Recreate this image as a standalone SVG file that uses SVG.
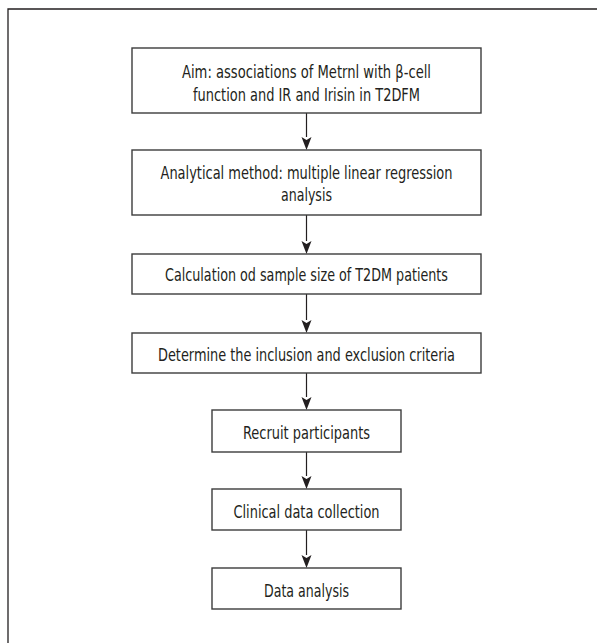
<svg xmlns="http://www.w3.org/2000/svg" width="597" height="643" viewBox="0 0 597 643">
<style>
.box{fill:#fff;stroke:#3c3c3c;stroke-width:1.4}
.t{font-family:"Liberation Sans Narrow","DejaVu Sans Condensed","Liberation Sans",Arial,sans-serif;font-size:18.5px;fill:#231f20;text-anchor:middle}
.c{stroke:#231f20;stroke-width:1.2;fill:none}
.frame{stroke:#231f20;stroke-width:1.3;fill:none}
.ah{fill:#231f20}
</style>
<rect width="597" height="643" fill="#fff"/>
<path class="frame" d="M8,643 V9 H597"/>
<g id="connectors">
<line class="c" x1="306.5" y1="113" x2="306.5" y2="137"/>
<path class="ah" d="M301.5,137 L306.5,140 L311.5,137 L306.5,150 Z"/>
<line class="c" x1="306.5" y1="215" x2="306.5" y2="241"/>
<path class="ah" d="M301.5,241 L306.5,244 L311.5,241 L306.5,254 Z"/>
<line class="c" x1="306.5" y1="294" x2="306.5" y2="320"/>
<path class="ah" d="M301.5,320 L306.5,323 L311.5,320 L306.5,333 Z"/>
<line class="c" x1="306.5" y1="373" x2="306.5" y2="397"/>
<path class="ah" d="M301.5,397 L306.5,400 L311.5,397 L306.5,410 Z"/>
<line class="c" x1="306.5" y1="452" x2="306.5" y2="476"/>
<path class="ah" d="M301.5,476 L306.5,479 L311.5,476 L306.5,489 Z"/>
<line class="c" x1="306.5" y1="530" x2="306.5" y2="555"/>
<path class="ah" d="M301.5,555 L306.5,558 L311.5,555 L306.5,568 Z"/>
</g>
<g id="n1">
<rect class="box" x="132" y="48" width="349" height="65"/>
<text class="t" x="306.5" y="78" textLength="249" lengthAdjust="spacingAndGlyphs">Aim: associations of Metrnl with β-cell</text>
<text class="t" x="306.5" y="100.5" textLength="227" lengthAdjust="spacingAndGlyphs">function and IR and Irisin in T2DFM</text>
</g>
<g id="n2">
<rect class="box" x="132" y="150" width="349" height="65"/>
<text class="t" x="306.5" y="178.5" textLength="292" lengthAdjust="spacingAndGlyphs">Analytical method: multiple linear regression</text>
<text class="t" x="306.5" y="200.5" textLength="51" lengthAdjust="spacingAndGlyphs">analysis</text>
</g>
<g id="n3">
<rect class="box" x="132" y="254" width="349" height="40"/>
<text class="t" x="306.5" y="281" textLength="283" lengthAdjust="spacingAndGlyphs">Calculation od sample size of T2DM patients</text>
</g>
<g id="n4">
<rect class="box" x="132" y="333" width="349" height="40"/>
<text class="t" x="306.5" y="361" textLength="297" lengthAdjust="spacingAndGlyphs">Determine the inclusion and exclusion criteria</text>
</g>
<g id="n5">
<rect class="box" x="212" y="410" width="189" height="42"/>
<text class="t" x="306.5" y="439" textLength="127" lengthAdjust="spacingAndGlyphs">Recruit participants</text>
</g>
<g id="n6">
<rect class="box" x="212" y="489" width="189" height="41"/>
<text class="t" x="306.5" y="518" textLength="146" lengthAdjust="spacingAndGlyphs">Clinical data collection</text>
</g>
<g id="n7">
<rect class="box" x="212" y="568" width="189" height="41"/>
<text class="t" x="306.5" y="597" textLength="85" lengthAdjust="spacingAndGlyphs">Data analysis</text>
</g>
</svg>
